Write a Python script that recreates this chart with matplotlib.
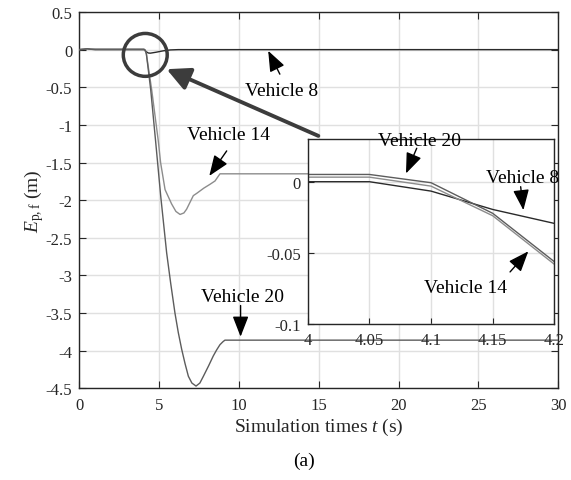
import numpy as np
import matplotlib
matplotlib.use('Agg')
import matplotlib.pyplot as plt
from matplotlib.patches import Ellipse

plt.rcParams['font.family'] = 'Liberation Serif'
plt.rcParams['mathtext.fontset'] = 'custom'
plt.rcParams['mathtext.rm'] = 'Liberation Serif'
plt.rcParams['mathtext.it'] = 'Liberation Serif:italic'
plt.rcParams['axes.unicode_minus'] = False

# position error of the followers (m) vs time (s)
t8 = [0, 0.3, 0.5, 0.7, 1.0, 4.0, 4.05, 4.1, 4.15, 4.2, 4.32, 4.45, 4.8, 5.26, 5.7, 6.2, 30]
e8 = [0, 0.005, 0.012, 0.005, 0, 0, 0, -0.0066, -0.0195, -0.0293, -0.045, -0.047, -0.035, -0.016, -0.004, 0, 0]

t14 = [0, 0.3, 0.5, 0.7, 1.0, 4.0, 4.05, 4.1, 4.15, 4.2, 4.53, 4.95, 5.09, 5.37, 5.78, 6.05,
       6.31, 6.55, 6.72, 6.93, 7.14, 7.35, 7.8, 8.18, 8.5, 8.81, 30]
e14 = [0, 0.005, 0.012, 0.005, 0.003, 0.0032, 0.0032, -0.0031, -0.0239, -0.058, -0.53, -1.22, -1.50,
       -1.86, -2.05, -2.15, -2.19, -2.17, -2.12, -2.03, -1.94, -1.91, -1.84, -1.79, -1.745, -1.65, -1.65]

t20 = [0, 0.3, 0.5, 0.7, 1.0, 4.0, 4.05, 4.1, 4.15, 4.2, 4.47, 4.78, 5.1, 5.47, 5.72, 5.99, 6.2,
       6.41, 6.62, 6.83, 7.05, 7.31, 7.55, 7.77, 8.1, 8.39, 8.6, 8.81, 9.0, 9.12, 30]
e20 = [0, 0.005, 0.012, 0.005, 0.005, 0.0051, 0.0051, -0.0007, -0.0222, -0.0562, -0.53, -1.22, -1.95,
       -2.70, -3.10, -3.50, -3.76, -3.98, -4.17, -4.34, -4.43, -4.47, -4.43, -4.34, -4.20, -4.07,
       -3.99, -3.92, -3.88, -3.86, -3.86]

xticks = [0, 5, 10, 15, 20, 25, 30]
yticks = [0.5, 0, -0.5, -1, -1.5, -2, -2.5, -3, -3.5, -4, -4.5]
xticks_in = [4, 4.05, 4.1, 4.15, 4.2]
yticks_in = [0, -0.05, -0.1]

c8 = '#2a2a2a'
c14 = '#8c8c8c'
c20 = '#5c5c5c'
gridc = '#e0e0e0'
spinec = '#262626'

fig = plt.figure(figsize=(5.71, 4.81), dpi=100)
ax = fig.add_axes([0.1389, 0.1906, 0.8389, 0.7824])

ax.plot(t8, e8, color=c8, lw=1.0, zorder=3)
ax.plot(t14, e14, color=c14, lw=1.0, zorder=3)
ax.plot(t20, e20, color=c20, lw=1.0, zorder=3)

ax.set_xlim(0, 30)
ax.set_ylim(-4.5, 0.5)
ax.set_xticks(xticks)
ax.set_yticks(yticks)
ax.set_xticklabels(['%g' % v for v in xticks])
ax.set_yticklabels(['%g' % v for v in yticks])
ax.grid(True, color=gridc, lw=1.0)
ax.set_axisbelow(True)
ax.tick_params(direction='in', top=True, right=True, length=5, width=0.8,
               labelsize=12, color=spinec, labelcolor='#262626')
ax.tick_params(axis='x', pad=6)
ax.tick_params(axis='y', pad=5)
for s in ax.spines.values():
    s.set_color(spinec)
    s.set_linewidth(1.0)

ax.set_xlabel('Simulation times $t$ (s)', fontsize=14, labelpad=2, color='#262626')
ax.set_ylabel(r'$E_{\mathrm{p,f}}$ (m)', fontsize=14, labelpad=0, color='#262626')

fig.text(0.532, 0.032, '(a)', fontsize=14, ha='center', va='baseline')

# zoom marker and pointer to the inset
ax.add_patch(Ellipse((4.13, -0.07), 2.75, 0.57, fill=False, lw=2.5, ec='#3c3c3c', zorder=5))
ax.annotate('', xy=(5.47, -0.26), xytext=(14.97, -1.146),
            arrowprops=dict(arrowstyle='-|>,head_length=0.7,head_width=0.35', lw=2.8,
                            color='#3c3c3c', mutation_scale=20, shrinkA=0, shrinkB=0), zorder=5)

arw = dict(arrowstyle='-|>,head_length=0.9,head_width=0.35', lw=1.0, color='k',
           mutation_scale=14, shrinkA=0, shrinkB=0)

ax.text(12.69, -0.605, 'Vehicle 8', fontsize=14, ha='center', va='baseline')
ax.annotate('', xy=(11.83, -0.016), xytext=(12.56, -0.326), arrowprops=arw)
ax.text(9.33, -1.181, 'Vehicle 14', fontsize=14, ha='center', va='baseline')
ax.annotate('', xy=(8.14, -1.678), xytext=(9.23, -1.346), arrowprops=arw)
ax.text(10.24, -3.34, 'Vehicle 20', fontsize=14, ha='center', va='baseline')
ax.annotate('', xy=(10.1, -3.814), xytext=(10.1, -3.40), arrowprops=arw)

# enlarged view around t = 4 s
axin = fig.add_axes([0.5389, 0.3243, 0.4319, 0.3846])
axin.plot(t8, e8, color=c8, lw=1.0)
axin.plot(t14, e14, color=c14, lw=1.0)
axin.plot(t20, e20, color=c20, lw=1.0)
axin.set_xlim(4, 4.2)
axin.set_ylim(-0.1, 0.03)
axin.set_xticks(xticks_in)
axin.set_yticks(yticks_in)
axin.set_xticklabels(['%g' % v for v in xticks_in])
axin.set_yticklabels(['%g' % v for v in yticks_in])
axin.grid(True, color=gridc, lw=1.0)
axin.set_axisbelow(True)
axin.tick_params(direction='in', top=False, right=False, length=4, width=0.8,
                 labelsize=12, color=spinec, labelcolor='#262626')
axin.tick_params(axis='x', pad=6)
axin.tick_params(axis='y', pad=5)
for s in axin.spines.values():
    s.set_color(spinec)
    s.set_linewidth(1.0)

axin.text(4.091, 0.026, 'Vehicle 20', fontsize=14, ha='center', va='baseline', clip_on=False)
axin.annotate('', xy=(4.0797, 0.0058), xytext=(4.0884, 0.0235), arrowprops=arw)
axin.text(4.1742, 0.0, 'Vehicle 8', fontsize=14, ha='center', va='baseline', clip_on=False)
axin.annotate('', xy=(4.1749, -0.020), xytext=(4.1727, -0.0035), arrowprops=arw)
axin.text(4.1276, -0.0775, 'Vehicle 14', fontsize=14, ha='center', va='baseline')
axin.annotate('', xy=(4.1789, -0.0489), xytext=(4.1641, -0.0634), arrowprops=arw)

fig.savefig('out.png', dpi=100)
